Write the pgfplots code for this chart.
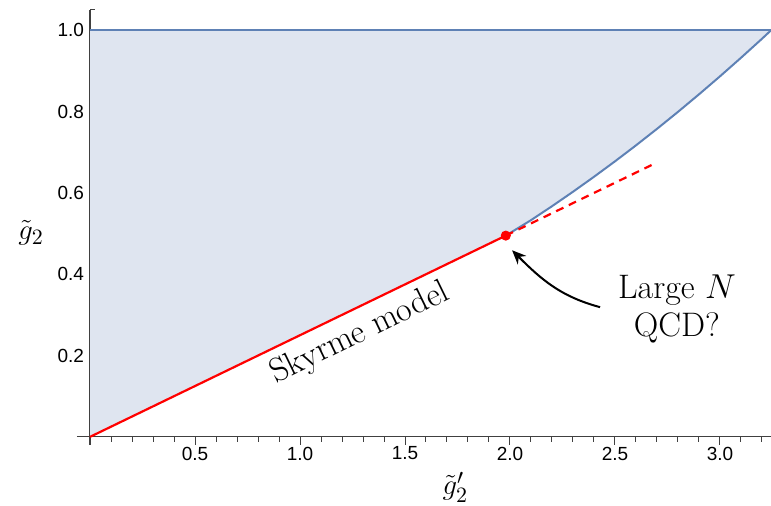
\documentclass[border=0pt]{standalone}
\usepackage{fontspec}
\usepackage{pgfplots}
\pgfplotsset{compat=1.18}
\usetikzlibrary{arrows.meta}
\newfontfamily\ticksans{Liberation Sans}
\definecolor{mmablue}{rgb}{0.368417,0.506779,0.709798}
\definecolor{mmafill}{RGB}{223,229,240}
\begin{document}
\begin{tikzpicture}
\begin{axis}[
  at={(0,0)}, anchor=south west,
  scale only axis, width=347pt, height=217.5pt,
  xmin=-0.062, xmax=3.243, ymin=-0.02, ymax=1.05,
  axis lines=middle, axis line style={-, black!75, line width=0.6pt},
  xtick={0.5,1.0,1.5,2.0,2.5,3.0}, ytick={0.2,0.4,0.6,0.8,1.0},
  minor xtick={0.1,0.2,...,3.21}, minor ytick={0.05,0.1,...,1.06},
  xtick align=outside, ytick align=inside, major tick length=4pt, minor tick length=2.5pt,
  tick style={black!75, line width=0.5pt},
  /pgf/number format/assume math mode=true,
  xticklabel style={/pgf/number format/fixed, /pgf/number format/fixed zerofill, /pgf/number format/precision=1, font=\ticksans\fontsize{9.5}{11}\selectfont, yshift=2.5pt},
  yticklabel style={/pgf/number format/fixed, /pgf/number format/fixed zerofill, /pgf/number format/precision=1, font=\ticksans\fontsize{9.5}{11}\selectfont, anchor=east, xshift=0.5pt},
  clip=false,
  xlabel={$\tilde{g}'_2$}, ylabel={$\tilde{g}_2$},
  xlabel style={at={(axis description cs:0.545,-0.097)}, anchor=center, font=\fontsize{15}{18}\selectfont},
  ylabel style={at={(axis description cs:-0.066,0.487)}, anchor=center, font=\fontsize{15}{18}\selectfont},
]
\addplot[fill=mmafill, draw=none] coordinates {
  (0,0) (1.98,0.495) (2.1,0.533) (2.2,0.5673) (2.3,0.6029) (2.4,0.6397) (2.5,0.6777)
  (2.6,0.7170) (2.7,0.7576) (2.8,0.7994) (2.9,0.8425) (3.0,0.8868) (3.1,0.9324)
  (3.2,0.9792) (3.243,1.0) (0,1.0)} -- cycle;
\addplot[mmablue, line width=1pt] coordinates {(0,1.0) (3.243,1.0)};
\addplot[mmablue, line width=1pt] coordinates {
  (1.98,0.495) (2.1,0.533) (2.2,0.5673) (2.3,0.6029) (2.4,0.6397) (2.5,0.6777)
  (2.6,0.7170) (2.7,0.7576) (2.8,0.7994) (2.9,0.8425) (3.0,0.8868) (3.1,0.9324)
  (3.2,0.9792) (3.243,1.0)};
\addplot[red, line width=1.1pt] coordinates {(0,0) (1.98,0.495)};
\addplot[red, line width=1.1pt, dash pattern=on 4pt off 3pt] coordinates {(1.98,0.495) (2.686,0.6715)};
\addplot[only marks, mark=*, mark size=2.3pt, red] coordinates {(1.98,0.495)};
\node[rotate=26, font=\fontsize{17}{20}\selectfont] at (axis cs:1.286,0.254) {Skyrme model};
\node[align=center, font=\fontsize{17}{19}\selectfont] at (axis cs:2.795,0.3145) {Large $N$\\QCD?};
\draw[-{Stealth[length=7pt,width=6pt]}, line width=1pt] (axis cs:2.429,0.319) to[out=165,in=-45] (axis cs:2.010,0.459);
\end{axis}
\pgfresetboundingbox
\path[use as bounding box] (-38.5pt,-30.5pt) rectangle (347pt,222.5pt);
\end{tikzpicture}
\end{document}
